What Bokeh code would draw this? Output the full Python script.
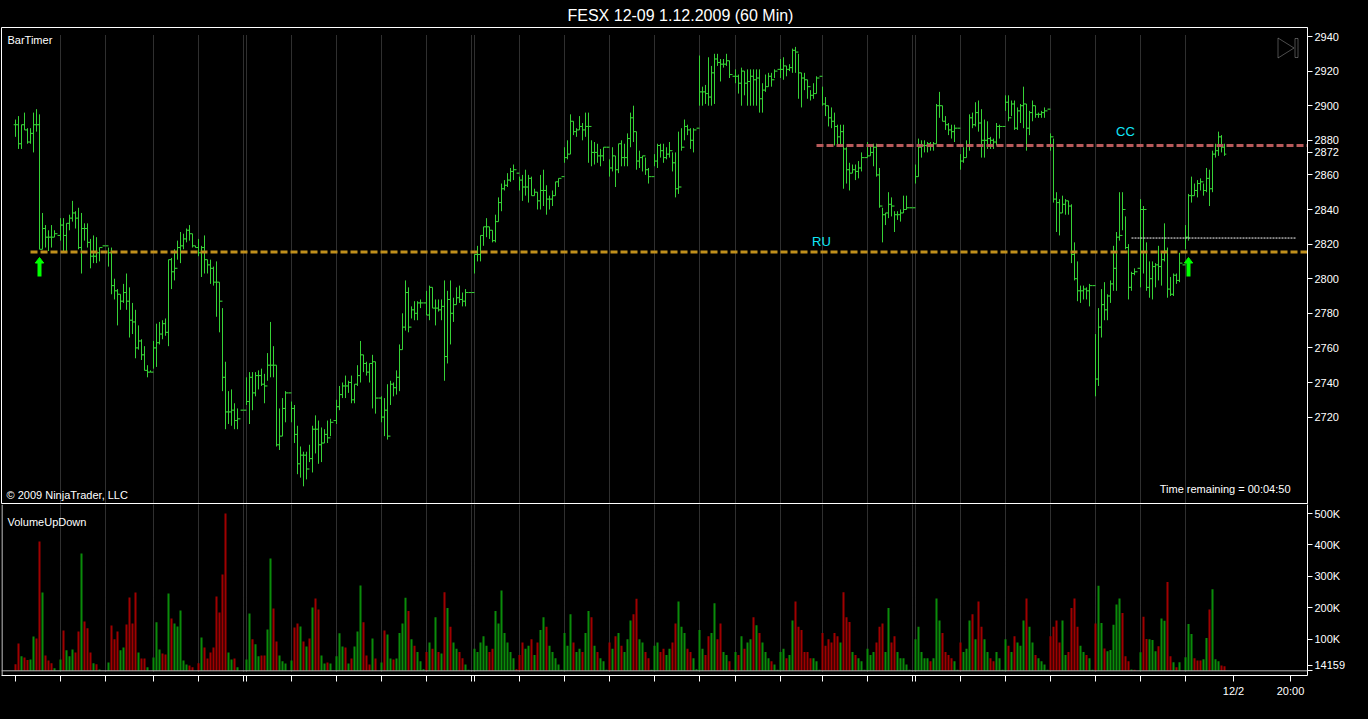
from bokeh.plotting import figure
from bokeh.layouts import column
from bokeh.models import Range1d, FixedTicker, Label, Span, PolyAnnotation
from bokeh.embed import file_html
from bokeh.resources import INLINE

FONT = "Liberation Sans"
title_text = "FESX 12-09  1.12.2009 (60 Min)"

# ---------------- data (60-min bars, index = bar number) ----------------
highs = [2892, 2894, 2889, 2896, 2887, 2887, 2896, 2898, 2895, 2838,
         2831, 2828, 2831, 2828, 2825, 2835, 2835, 2832, 2837, 2845,
         2839, 2841, 2838, 2832, 2832, 2823, 2825, 2824, 2818, 2819,
         2819, 2818, 2818, 2800, 2794, 2791, 2797, 2803, 2795, 2786,
         2782, 2773, 2765, 2761, 2750, 2747, 2764, 2774, 2775, 2776,
         2777, 2811, 2812, 2817, 2822, 2827, 2826, 2829, 2831, 2826,
         2819, 2823, 2819, 2825, 2811, 2811, 2807, 2810, 2798, 2783,
         2752, 2735, 2736, 2728, 2725, 2724, 2724, 2743, 2746, 2746,
         2746, 2747, 2748, 2745, 2757, 2775, 2761, 2750, 2725, 2731,
         2735, 2734, 2729, 2727, 2715, 2703, 2700, 2700, 2704, 2715,
         2721, 2718, 2714, 2713, 2718, 2719, 2718, 2730, 2738, 2740,
         2744, 2741, 2744, 2739, 2750, 2764, 2756, 2752, 2751, 2756,
         2752, 2731, 2732, 2731, 2739, 2741, 2740, 2747, 2762, 2780,
         2799, 2795, 2784, 2787, 2787, 2788, 2786, 2793, 2796, 2795,
         2788, 2788, 2788, 2799, 2793, 2799, 2789, 2795, 2796, 2792,
         2794, 2792, 2792, 2814, 2819, 2825, 2830, 2835, 2830, 2828,
         2837, 2847, 2855, 2857, 2861, 2864, 2866, 2861, 2859, 2860,
         2863, 2860, 2859, 2852, 2850, 2860, 2863, 2854, 2848, 2851,
         2856, 2858, 2859, 2876, 2880, 2895, 2891, 2887, 2894, 2890,
         2896, 2896, 2880, 2879, 2878, 2875, 2876, 2876, 2869, 2876,
         2871, 2878, 2880, 2878, 2884, 2896, 2900, 2885, 2874, 2871,
         2870, 2864, 2859, 2872, 2878, 2878, 2878, 2876, 2879, 2873,
         2873, 2885, 2887, 2892, 2889, 2887, 2887, 2887, 2929, 2911,
         2912, 2928, 2923, 2930, 2930, 2927, 2927, 2930, 2926, 2917,
         2921, 2918, 2922, 2920, 2921, 2921, 2921, 2921, 2921, 2913,
         2918, 2919, 2919, 2921, 2921, 2927, 2928, 2923, 2924, 2933,
         2934, 2930, 2919, 2919, 2915, 2909, 2913, 2917, 2917, 2911,
         2905, 2900, 2899, 2896, 2889, 2889, 2889, 2876, 2867, 2866,
         2866, 2868, 2873, 2870, 2879, 2877, 2878, 2878, 2864, 2841,
         2838, 2850, 2847, 2839, 2839, 2840, 2848, 2848, 2841, 2841,
         2866, 2881, 2880, 2880, 2879, 2879, 2879, 2901, 2908, 2900,
         2894, 2890, 2889, 2889, 2887, 2872, 2876, 2880, 2895, 2896,
         2902, 2903, 2898, 2892, 2891, 2882, 2881, 2890, 2889, 2888,
         2906, 2906, 2903, 2903, 2899, 2901, 2911, 2901, 2897, 2903,
         2900, 2896, 2897, 2899, 2898, 2884, 2881, 2850, 2846, 2848,
         2846, 2845, 2843, 2821, 2810, 2796, 2796, 2795, 2797, 2796,
         2768, 2783, 2794, 2798, 2791, 2799, 2819, 2827, 2850, 2850,
         2836, 2820, 2804, 2806, 2806, 2846, 2842, 2821, 2810, 2810,
         2809, 2819, 2816, 2832, 2818, 2801, 2803, 2803, 2815, 2808,
         2831, 2849, 2859, 2855, 2857, 2858, 2855, 2864, 2863, 2874,
         2878, 2885, 2883, 2878]

lows = [2882, 2875, 2875, 2886, 2878, 2878, 2873, 2885, 2817, 2817,
        2818, 2816, 2818, 2824, 2825, 2822, 2816, 2816, 2828, 2833,
        2829, 2817, 2803, 2822, 2818, 2806, 2809, 2809, 2810, 2819,
        2819, 2807, 2791, 2788, 2773, 2782, 2786, 2782, 2766, 2768,
        2754, 2759, 2753, 2747, 2743, 2746, 2748, 2749, 2762, 2765,
        2767, 2761, 2794, 2799, 2811, 2809, 2817, 2821, 2822, 2818,
        2818, 2813, 2801, 2803, 2803, 2797, 2796, 2778, 2769, 2735,
        2713, 2716, 2715, 2713, 2713, 2724, 2724, 2727, 2716, 2724,
        2732, 2736, 2738, 2728, 2741, 2743, 2743, 2703, 2701, 2709,
        2717, 2734, 2717, 2705, 2687, 2685, 2680, 2684, 2694, 2688,
        2699, 2693, 2694, 2705, 2705, 2709, 2718, 2716, 2724, 2731,
        2731, 2734, 2728, 2728, 2738, 2740, 2746, 2744, 2740, 2725,
        2722, 2731, 2717, 2709, 2707, 2727, 2732, 2733, 2735, 2759,
        2770, 2769, 2777, 2776, 2776, 2783, 2786, 2779, 2776, 2783,
        2773, 2781, 2776, 2741, 2751, 2762, 2775, 2785, 2786, 2784,
        2784, 2792, 2792, 2803, 2810, 2810, 2819, 2824, 2823, 2821,
        2821, 2833, 2839, 2851, 2853, 2856, 2857, 2861, 2851, 2845,
        2848, 2844, 2848, 2848, 2840, 2840, 2842, 2837, 2840, 2842,
        2848, 2853, 2859, 2867, 2869, 2872, 2883, 2882, 2886, 2880,
        2882, 2867, 2865, 2866, 2867, 2865, 2868, 2876, 2859, 2862,
        2853, 2861, 2865, 2865, 2865, 2876, 2879, 2863, 2864, 2862,
        2860, 2855, 2859, 2865, 2864, 2870, 2867, 2869, 2870, 2862,
        2847, 2849, 2874, 2880, 2883, 2875, 2873, 2887, 2900, 2900,
        2901, 2900, 2900, 2901, 2923, 2914, 2922, 2923, 2916, 2917,
        2913, 2907, 2900, 2906, 2900, 2900, 2900, 2900, 2896, 2896,
        2908, 2911, 2911, 2916, 2921, 2916, 2915, 2917, 2920, 2919,
        2919, 2904, 2899, 2909, 2904, 2903, 2904, 2907, 2917, 2900,
        2894, 2888, 2887, 2877, 2877, 2877, 2852, 2855, 2851, 2861,
        2857, 2858, 2862, 2870, 2870, 2871, 2865, 2859, 2841, 2821,
        2831, 2835, 2836, 2827, 2834, 2833, 2838, 2840, 2841, 2841,
        2855, 2859, 2870, 2873, 2873, 2874, 2874, 2878, 2893, 2891,
        2886, 2883, 2881, 2879, 2887, 2863, 2867, 2870, 2874, 2887,
        2888, 2885, 2870, 2870, 2875, 2875, 2875, 2877, 2881, 2888,
        2897, 2891, 2894, 2886, 2886, 2890, 2887, 2874, 2883, 2891,
        2893, 2893, 2893, 2893, 2898, 2874, 2844, 2827, 2825, 2838,
        2837, 2837, 2809, 2799, 2787, 2786, 2788, 2788, 2784, 2796,
        2732, 2738, 2766, 2776, 2776, 2786, 2793, 2793, 2822, 2828,
        2817, 2788, 2793, 2802, 2806, 2795, 2803, 2793, 2789, 2788,
        2795, 2799, 2796, 2810, 2789, 2790, 2790, 2797, 2798, 2808,
        2817, 2822, 2844, 2848, 2847, 2851, 2848, 2850, 2842, 2850,
        2870, 2871, 2873, 2871]

closes = [2889, 2878, 2889, 2886, 2879, 2884, 2889, 2889, 2817, 2829,
          2824, 2824, 2824, 2826, 2825, 2831, 2825, 2832, 2835, 2838,
          2835, 2818, 2829, 2829, 2821, 2813, 2813, 2815, 2818, 2819,
          2819, 2815, 2796, 2793, 2791, 2787, 2792, 2787, 2776, 2775,
          2760, 2764, 2756, 2747, 2746, 2746, 2760, 2763, 2768, 2774,
          2769, 2811, 2804, 2806, 2818, 2819, 2823, 2828, 2826, 2819,
          2818, 2815, 2818, 2811, 2808, 2806, 2798, 2798, 2787, 2743,
          2723, 2723, 2724, 2718, 2719, 2724, 2724, 2729, 2743, 2734,
          2744, 2744, 2739, 2738, 2750, 2750, 2750, 2704, 2709, 2725,
          2734, 2734, 2725, 2710, 2693, 2698, 2698, 2690, 2696, 2713,
          2713, 2704, 2705, 2710, 2708, 2717, 2718, 2726, 2733, 2738,
          2738, 2740, 2730, 2739, 2744, 2756, 2751, 2746, 2751, 2752,
          2731, 2731, 2720, 2724, 2709, 2739, 2737, 2743, 2759, 2772,
          2792, 2772, 2782, 2780, 2786, 2786, 2786, 2779, 2795, 2783,
          2783, 2782, 2784, 2755, 2788, 2780, 2785, 2789, 2788, 2787,
          2792, 2792, 2792, 2814, 2814, 2825, 2830, 2830, 2828, 2822,
          2833, 2844, 2852, 2854, 2857, 2862, 2863, 2861, 2857, 2853,
          2853, 2858, 2848, 2850, 2845, 2851, 2851, 2846, 2846, 2848,
          2856, 2858, 2859, 2870, 2872, 2891, 2885, 2886, 2888, 2886,
          2888, 2888, 2873, 2873, 2871, 2871, 2876, 2876, 2864, 2871,
          2863, 2878, 2870, 2870, 2881, 2893, 2885, 2868, 2870, 2871,
          2863, 2859, 2859, 2868, 2877, 2874, 2870, 2872, 2874, 2867,
          2852, 2853, 2876, 2888, 2886, 2880, 2886, 2887, 2908, 2908,
          2907, 2905, 2919, 2927, 2925, 2924, 2924, 2926, 2918, 2917,
          2917, 2913, 2920, 2913, 2914, 2917, 2915, 2916, 2904, 2909,
          2911, 2917, 2915, 2920, 2921, 2921, 2923, 2921, 2922, 2932,
          2931, 2919, 2916, 2915, 2911, 2906, 2907, 2916, 2917, 2901,
          2900, 2893, 2891, 2888, 2882, 2885, 2875, 2863, 2861, 2863,
          2862, 2864, 2870, 2870, 2871, 2873, 2876, 2860, 2842, 2837,
          2838, 2843, 2842, 2837, 2837, 2838, 2840, 2841, 2841, 2841,
          2859, 2876, 2877, 2877, 2878, 2877, 2878, 2900, 2900, 2891,
          2889, 2886, 2885, 2887, 2887, 2868, 2870, 2877, 2893, 2889,
          2896, 2890, 2880, 2880, 2881, 2880, 2879, 2888, 2888, 2888,
          2902, 2893, 2901, 2887, 2897, 2900, 2901, 2887, 2896, 2900,
          2895, 2895, 2896, 2897, 2898, 2882, 2846, 2844, 2838, 2843,
          2845, 2842, 2814, 2800, 2793, 2793, 2794, 2793, 2796, 2796,
          2742, 2772, 2785, 2782, 2790, 2797, 2806, 2824, 2825, 2840,
          2818, 2795, 2803, 2804, 2806, 2840, 2840, 2795, 2800, 2807,
          2808, 2807, 2811, 2816, 2794, 2791, 2802, 2799, 2809, 2808,
          2824, 2848, 2848, 2851, 2855, 2856, 2851, 2858, 2852, 2872,
          2874, 2882, 2876, 2872]

# volume in thousands of contracts
volumes_k = [21, 87, 46, 42, 34, 36, 109, 103, 411, 249,
             49, 33, 24, 8, 0, 36, 128, 65, 46, 68,
             58, 125, 373, 157, 135, 58, 24, 21, 4, 0,
             0, 26, 144, 100, 125, 65, 74, 147, 233, 150,
             249, 58, 39, 39, 11, 0, 42, 154, 68, 55,
             52, 246, 166, 150, 141, 192, 33, 20, 17, 11,
             0, 24, 106, 74, 39, 58, 74, 236, 185, 306,
             500, 58, 36, 39, 11, 0, 0, 36, 182, 100,
             84, 46, 49, 49, 131, 357, 198, 93, 49, 30,
             23, 0, 33, 138, 150, 141, 93, 77, 103, 201,
             230, 195, 49, 23, 26, 23, 0, 46, 119, 77,
             74, 23, 39, 77, 125, 271, 154, 49, 20, 103,
             39, 0, 26, 128, 115, 39, 36, 39,
             120, 150, 232, 190, 100, 80, 60, 30, 5, 60,
             90, 70, 170, 60, 55, 250, 200, 140, 90, 70,
             60, 40, 20, 3, 0, 70, 60, 90, 110, 80,
             60, 70, 190, 150, 255, 120, 90, 60, 40, 5,
             50, 90, 70, 80, 100, 50, 90, 130, 170, 140,
             80, 60, 40, 20, 3, 120, 80, 180, 90, 60,
             70, 60, 120, 190, 170, 80, 60, 40, 30, 3,
             90, 70, 110, 120, 80, 60, 100, 160, 180, 229,
             100, 90, 60, 40, 3, 80, 90, 60, 70, 50,
             70, 90, 150, 220, 140, 120, 70, 60, 40, 5,
             130, 70, 50, 110, 120, 215, 100, 150, 60, 50,
             30, 3, 60, 50, 110, 70, 90, 100, 170, 145,
             120, 90, 60, 40, 30, 20, 3, 60, 70, 40,
             50, 160, 220, 140, 130, 60, 60, 40, 40, 30,
             3, 120, 80, 100, 90, 120, 110, 90, 250, 170,
             155, 60, 50, 40, 30, 3, 70, 50, 60, 90,
             140, 150, 60, 200, 90, 110, 60, 40, 40, 20,
             3, 0, 100, 140, 60, 40, 40, 30, 40, 230,
             160, 120, 60, 50, 40, 30, 3, 90, 60, 70,
             160, 180, 100, 220, 140, 100, 60, 40, 30, 60,
             40, 3, 100, 80, 60, 110, 90, 80, 160, 230,
             140, 90, 50, 40, 30, 20, 3, 110, 140, 160,
             90, 160, 50, 60, 200, 230, 140, 80, 60, 50,
             40, 3, 150, 270,
             152, 71, 62, 66, 146, 211, 230, 184, 46, 30,
             4, 3, 0, 59, 172, 101, 100, 98, 62, 78,
             166, 159, 282, 46, 27, 11, 27, 0, 43, 149,
             117, 40, 33, 33, 37, 104, 195, 259, 37, 30,
             17, 14.159]

# "g" = up-volume bar, "r" = down-volume bar
volume_dir = list("rrgrrggrrg" "rrrgggrggg" "rrgrrrgrgg" "ggrrrggrrr"
                  "rgrrgggggr" "rgrgggggrr" "grgrrrrrrr" "rggrgggggr"
                  "ggrrggrrgg" "gggrrgrgrg" "rrggrggggg" "rgrgggrrrg"
                  "rggrggrg"
                  "gggrgrgggr" "grgrgrgrgg" "rrgggggggg" "rrgggggggr"
                  "rrggrgrggr" "ggggggggrg" "grggrgrggg" "rgrgrgggrr"
                  "ggrrgggrrg" "grrgggrrgg" "ggrrggrrgg" "rrgrgrggrg"
                  "rgggrggggr" "ggrrrrrrgg" "grrrrrrgrr" "rgrggggggr"
                  "rrggrrgggg" "gggggggrgg" "grrrrggrgg" "grgrrggrrg"
                  "gggrgrgggr" "ggrggggrrr" "rggrrrrggr" "ggrg"
                  "grgggggrrr" "grggrrgggr" "ggrrgrgggg" "grrrggrggg" "rr")

session_starts = [15, 30, 46, 61, 76, 77, 92, 107, 122, 137, 152, 153, 168,
                  183, 198, 213, 228, 240, 255, 269, 284, 299, 300, 315, 330,
                  345, 360, 375, 390]
date_ticks = {406: "12/2", 425: "20:00"}
price_ticks = list(range(2720, 2941, 20))
volume_ticks = {0: "", 100: "100K", 200: "200K", 300: "300K", 400: "400K", 500: "500K"}
ru_level, ru_from = 2815.5, 5
cc_level, cc_from = 2877.0, 267
marker_level, marker_from, marker_to = 2823.5, 372, 427
signal_bars = [8, 391]
last_price_level, last_price = 2873, "2872"
last_volume_level, last_volume = 17, "14159"

# ---------------- pixel helpers (reference geometry) ----------------
X0, DX = 15.0, 3.0
def kx(px):
    return (px - X0) / DX

def py(y):
    return 2940.0 - (y - 36.0) / 1.73

def vy(y):
    return (670.3 - y) / 0.3146

W = 1368
A_TOP, A_BOT = 27, 503
B_TOP, B_BOT = 504, 675
LEFT, RIGHT = 1, 1307
GREEN = "#36d236"
UPV, DNV = "#0a8c0a", "#a00000"
CYAN = "#10e8f8"

xr = Range1d(kx(LEFT), kx(RIGHT))

pA = figure(width=W, height=A_BOT + 1, x_range=xr,
            y_range=Range1d(py(A_BOT), py(A_TOP)),
            output_backend="svg", toolbar_location=None,
            x_axis_location=None, y_axis_location="right",
            min_border_left=LEFT, min_border_right=W - RIGHT,
            min_border_top=A_TOP, min_border_bottom=1,
            background_fill_color="black", border_fill_color="black",
            outline_line_color="white", outline_line_width=1)
pA.grid.visible = False
pA.title.text = title_text
pA.title.align = "left"
pA.title.offset = 566
pA.title.standoff = 8
pA.title.text_color = "white"
pA.title.text_font = FONT
pA.title.text_font_size = "16px"
pA.title.text_font_style = "normal"

ax = pA.yaxis[0]
ax.ticker = FixedTicker(ticks=price_ticks + [last_price_level])
ax.major_label_overrides = {last_price_level: last_price}
ax.axis_line_color = "white"
ax.major_tick_line_color = "white"
ax.minor_tick_line_color = None
ax.major_tick_out = 5
ax.major_tick_in = 0
ax.major_label_text_color = "white"
ax.major_label_text_font = FONT
ax.major_label_text_font_size = "11px"
ax.major_label_standoff = 2

n = len(closes)
ks = list(range(n))
opens = [closes[0]] + closes[:-1]

# session separators
pA.segment(x0=session_starts, x1=session_starts, y0=py(35), y1=py(A_BOT),
           line_color="#5e5e5e", line_dash="1 1", line_width=1)

# OHLC bars
pA.segment(x0=ks, x1=ks, y0=lows, y1=highs, line_color=GREEN, line_width=1)
pA.segment(x0=[k - 0.6 for k in ks], x1=ks, y0=opens, y1=opens, line_color=GREEN, line_width=1)
pA.segment(x0=ks, x1=[k + 0.6 for k in ks], y0=closes, y1=closes, line_color=GREEN, line_width=1)

# horizontal levels
pA.segment(x0=[ru_from], x1=[kx(RIGHT)], y0=[ru_level], y1=[ru_level],
           line_color="#c0901c", line_width=3, line_dash="7 3")
pA.segment(x0=[cc_from], x1=[kx(RIGHT)], y0=[cc_level], y1=[cc_level],
           line_color="#b85a5a", line_width=3, line_dash="7 3")
pA.segment(x0=[marker_from], x1=[marker_to], y0=[marker_level], y1=[marker_level],
           line_color="white", line_width=1, line_dash="2 1")

# signal arrows
pA.segment(x0=signal_bars, x1=signal_bars, y0=py(276), y1=py(261.5),
           line_color="#00ff00", line_width=4)
pA.patches(xs=[[k - 1.4, k, k + 1.4] for k in signal_bars],
           ys=[[py(262.5), py(257), py(262.5)] for _ in signal_bars],
           fill_color="#00ff00", line_color="#00ff00")

def lab(fig, x, y, text, size="11px", color="white", align="left", **kw):
    fig.add_layout(Label(x=x, y=y, text=text, text_color=color, text_font=FONT,
                         text_font_size=size, text_align=align,
                         text_baseline="middle", **kw))

lab(pA, kx(7), py(39), "BarTimer")
lab(pA, kx(6), py(494), "\u00a9 2009 NinjaTrader, LLC")
lab(pA, kx(1290), py(488), "Time remaining = 00:04:50", align="right")
lab(pA, kx(821), py(241), "RU", size="13px", color=CYAN, align="center")
lab(pA, kx(1125), py(131), "CC", size="13px", color=CYAN, align="center")

# play icon
pA.add_layout(PolyAnnotation(xs=[kx(1277.5), kx(1293.5), kx(1277.5)],
                             ys=[py(37.5), py(47.5), py(57.5)],
                             fill_alpha=0, line_color="white", line_width=1))
pA.add_layout(PolyAnnotation(xs=[kx(1294.5), kx(1297.5), kx(1297.5), kx(1294.5)],
                             ys=[py(38), py(38), py(57), py(57)],
                             fill_alpha=0, line_color="white", line_width=1))

# ---------------- volume panel ----------------
pB = figure(width=W, height=719 - B_TOP, x_range=xr,
            y_range=Range1d(vy(B_BOT), vy(B_TOP)),
            output_backend="svg", toolbar_location=None,
            x_axis_location="below", y_axis_location="right",
            min_border_left=LEFT, min_border_right=W - RIGHT,
            min_border_top=0, min_border_bottom=719 - B_BOT,
            background_fill_color="black", border_fill_color="black",
            outline_line_color=None)
pB.grid.visible = False

vax = pB.yaxis[0]
vt = dict(volume_ticks)
vt[last_volume_level] = last_volume
vax.ticker = FixedTicker(ticks=sorted(vt.keys()))
vax.major_label_overrides = vt
vax.axis_line_color = "white"
vax.major_tick_line_color = "white"
vax.minor_tick_line_color = None
vax.major_tick_out = 5
vax.major_tick_in = 0
vax.major_label_text_color = "white"
vax.major_label_text_font = FONT
vax.major_label_text_font_size = "11px"
vax.major_label_standoff = 2

xax = pB.xaxis[0]
all_ticks = [0] + session_starts + list(date_ticks.keys())
xax.ticker = FixedTicker(ticks=all_ticks)
overrides = {t: "" for t in all_ticks}
overrides.update(date_ticks)
xax.major_label_overrides = overrides
xax.axis_line_color = "white"
xax.major_tick_line_color = "white"
xax.minor_tick_line_color = None
xax.major_tick_out = 6
xax.major_tick_in = 0
xax.major_label_text_color = "white"
xax.major_label_text_font = FONT
xax.major_label_text_font_size = "11px"
xax.major_label_standoff = 3

pB.segment(x0=session_starts, x1=session_starts, y0=vy(B_TOP), y1=vy(672),
           line_color="#5e5e5e", line_dash="1 1", line_width=1)
pB.add_layout(Span(location=kx(LEFT + 0.5), dimension="height", line_color="white", line_width=1))
pB.add_layout(Span(location=0, dimension="width", line_color="#b4b4b4", line_width=1))

vcolors = [UPV if d == "g" else DNV for d in volume_dir]
pB.vbar(x=ks, top=volumes_k, bottom=0, width=0.67, fill_color=vcolors, line_color=None)

lab(pB, kx(7), vy(521.3), "VolumeUpDown")

layout = column(pA, pB, spacing=0)
html = file_html(layout, INLINE, title="FESX 12-09 (60 Min)")
html = html.replace("<head>", "<head><style>html,body{margin:0;padding:0;background:#000;overflow:hidden}</style>", 1)
open("out.html", "w").write(html)
